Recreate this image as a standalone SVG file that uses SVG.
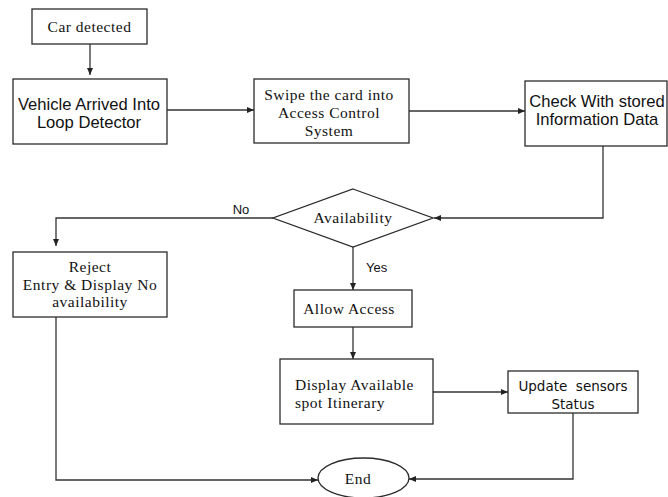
<svg xmlns="http://www.w3.org/2000/svg" width="668" height="497" viewBox="0 0 668 497">
  <style>
    .box { fill: #ffffff; stroke: #2b2b2b; stroke-width: 1.3; }
    .line { fill: none; stroke: #333333; stroke-width: 1.3; }
    .serif { font-family: "Liberation Serif", "Times New Roman", serif; font-size: 15.5px; letter-spacing: 0.5px; fill: #111111; }
    .sans { font-family: "Liberation Sans", Arial, sans-serif; font-size: 16.6px; fill: #111111; }
    .label { font-family: "Liberation Sans", Arial, sans-serif; font-size: 13px; fill: #111111; }
    .verd { font-family: "DejaVu Sans", Verdana, sans-serif; font-size: 13.5px; fill: #111111; }
  </style>
  <defs>
    <marker id="arrow" markerWidth="8" markerHeight="8" refX="7" refY="4" orient="auto" markerUnits="userSpaceOnUse">
      <path d="M0,1 L7,4 L0,7 Z" fill="#222222"/>
    </marker>
  </defs>
  <rect width="668" height="497" fill="#ffffff"/>

  <g id="connectors">
    <line class="line" x1="90" y1="44" x2="90" y2="75" marker-end="url(#arrow)"/>
    <line class="line" x1="167" y1="110" x2="254" y2="110" marker-end="url(#arrow)"/>
    <line class="line" x1="409" y1="111" x2="525" y2="111" marker-end="url(#arrow)"/>
    <polyline class="line" points="603,146 603,218 434,218" marker-end="url(#arrow)"/>
    <polyline class="line" points="273,218 56,218 56,246" marker-end="url(#arrow)"/>
    <line class="line" x1="353" y1="246" x2="353" y2="290" marker-end="url(#arrow)"/>
    <line class="line" x1="353" y1="327" x2="353" y2="359" marker-end="url(#arrow)"/>
    <line class="line" x1="433" y1="392" x2="508" y2="392" marker-end="url(#arrow)"/>
    <polyline class="line" points="56,317 56,480 318,480" marker-end="url(#arrow)"/>
    <polyline class="line" points="573,413 573,479 409,479" marker-end="url(#arrow)"/>
    <text class="label" x="241" y="214" text-anchor="middle">No</text>
    <text class="label" x="366" y="272">Yes</text>
  </g>

  <g id="car-detected">
    <rect class="box" x="32" y="9" width="115" height="35"/>
    <text class="serif" x="89.5" y="32" text-anchor="middle">Car detected</text>
  </g>

  <g id="vehicle-arrived">
    <rect class="box" x="13" y="79" width="154" height="65"/>
    <text class="sans" x="89" y="110" text-anchor="middle">Vehicle Arrived Into</text>
    <text class="sans" x="89" y="128" text-anchor="middle">Loop Detector</text>
  </g>

  <g id="swipe-card">
    <rect class="box" x="254" y="79" width="155" height="64"/>
    <text class="serif" x="329" y="100" text-anchor="middle">Swipe the card into</text>
    <text class="serif" x="329" y="118" text-anchor="middle">Access Control</text>
    <text class="serif" x="329" y="136" text-anchor="middle">System</text>
  </g>

  <g id="check-stored">
    <rect class="box" x="525" y="81" width="142" height="65"/>
    <text class="sans" x="597" y="107" text-anchor="middle">Check With stored</text>
    <text class="sans" x="597" y="125" text-anchor="middle">Information Data</text>
  </g>

  <g id="availability">
    <polygon class="box" points="353,189 433,218 353,247 273,218"/>
    <text class="serif" x="353" y="223" font-size="16.5" text-anchor="middle">Availability</text>
  </g>

  <g id="reject-entry">
    <rect class="box" x="13" y="252" width="154" height="65"/>
    <text class="serif" x="90" y="272" text-anchor="middle">Reject</text>
    <text class="serif" x="90" y="290" text-anchor="middle">Entry &amp; Display No</text>
    <text class="serif" x="90" y="307" text-anchor="middle">availability</text>
  </g>

  <g id="allow-access">
    <rect class="box" x="294" y="290" width="118" height="37"/>
    <text class="serif" x="349" y="314" text-anchor="middle">Allow Access</text>
  </g>

  <g id="display-spot">
    <rect class="box" x="280" y="359" width="153" height="65"/>
    <text class="serif" x="295" y="390">Display Available</text>
    <text class="serif" x="295" y="408">spot Itinerary</text>
  </g>

  <g id="update-sensors">
    <rect class="box" x="508" y="371" width="130" height="42"/>
    <text class="verd" x="573" y="391" text-anchor="middle" xml:space="preserve">Update  sensors</text>
    <text class="verd" x="573" y="409" text-anchor="middle">Status</text>
  </g>

  <g id="end">
    <ellipse class="box" cx="363.5" cy="478" rx="45.5" ry="20"/>
    <text class="serif" x="358" y="484" text-anchor="middle">End</text>
  </g>
</svg>
